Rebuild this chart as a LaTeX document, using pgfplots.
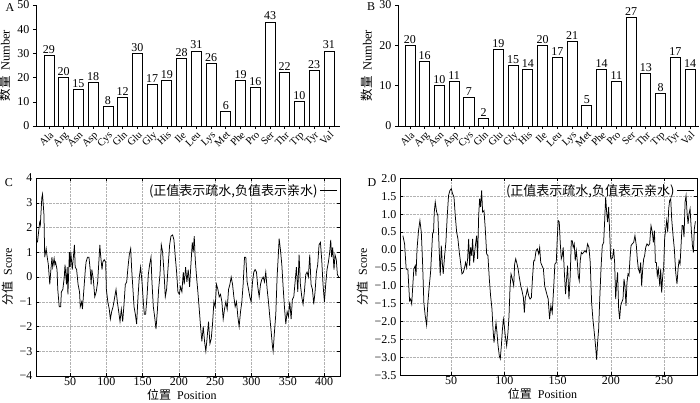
\documentclass[border=0pt]{standalone}
\usepackage{pgfplots}
\pgfplotsset{compat=1.18}
\usepackage{fontspec}
\setmainfont{Liberation Serif}
\newfontfamily\cjk{Noto Sans CJK SC}
\newcommand{\numfont}{\fontsize{12}{12}\selectfont}
\pgfplotsset{
  barax/.style={anchor=south west,scale only axis,height=121pt,
    ybar, bar width=0.68, ymin=0,
    xtick={0,...,19},
    xticklabels={Ala,Arg,Asn,Asp,Cys,Gln,Glu,Gly,His,Ile,Leu,Lys,Met,Phe,Pro,Ser,Thr,Trp,Tyr,Val},
    x tick label style={rotate=45,anchor=north east,inner sep=1pt,font=\fontsize{10.5}{10.5}\selectfont},
    y tick label style={font=\numfont},
    axis lines*=left, tick align=outside, major tick length=3pt,
    axis line style={line width=0.8pt}, tick style={line width=0.6pt,black},
    /pgf/number format/assume math mode=true,
    nodes near coords,
    every node near coord/.append style={font=\numfont,inner sep=1.5pt},
    ylabel={{\cjk 数量}\ \,Number}, ylabel style={font=\fontsize{12.5}{12.5}\selectfont},
    enlarge y limits=false,
  },
  lineax/.style={anchor=south west,scale only axis,
    grid=major, grid style={densely dotted,gray!60,line width=0.5pt},
    tick style={black,line width=0.5pt}, major tick length=3pt,
    tick label style={font=\numfont},
    x tick label style={inner sep=1.5pt},
    /pgf/number format/assume math mode=true,
    xlabel={{\cjk 位置}\ \ Position}, ylabel={{\cjk 分值}\ \ Score},
    label style={font=\fontsize{12}{12}\selectfont},
    xlabel style={at={(axis description cs:0.48,0)},anchor=north,yshift=-13pt,inner sep=0pt},
    legend style={at={(0.995,0.985)},anchor=north east,draw=none,fill=none,
      font=\fontsize{13}{13}\selectfont,inner sep=1pt},
    legend plot pos=right,
    axis line style={line width=0.7pt},
  }
}
\begin{document}
\begin{tikzpicture}
\useasboundingbox (0,0) rectangle (700pt,402pt);
% ---------- A ----------
\begin{axis}[barax, at={(36pt,276pt)}, width=304pt, ymax=50, ytick={0,10,...,50},
  xmin=-0.88, xmax=19.75]
\addplot[fill=white,draw=black,line width=0.8pt] coordinates {
(0,29) (1,20) (2,15) (3,18) (4,8) (5,12) (6,30) (7,17) (8,19) (9,28)
(10,31) (11,26) (12,6) (13,19) (14,16) (15,43) (16,22) (17,10) (18,23) (19,31)};
\end{axis}
% ---------- B ----------
\begin{axis}[barax, at={(398pt,276pt)}, width=301pt, ymax=30, ytick={0,10,20,30},
  xmin=-0.81, xmax=19.61]
\addplot[fill=white,draw=black,line width=0.8pt] coordinates {
(0,20) (1,16) (2,10) (3,11) (4,7) (5,2) (6,19) (7,15) (8,14) (9,20)
(10,17) (11,21) (12,5) (13,14) (14,11) (15,27) (16,13) (17,8) (18,17) (19,14)};
\end{axis}
% ---------- C ----------
\begin{axis}[lineax, at={(36pt,26pt)}, width=304pt, height=198pt,
  xmin=3, xmax=422, ymin=-4, ymax=4,
  xtick={50,100,...,400}, ytick={-4,-3,...,4},
  yticklabels={−4,−3,−2,−1,0,1,2,3,4}]
\addplot[black,line width=0.75pt] coordinates {
(5,1.4) (8,2.2) (9,2.1) (11,3.2) (12,3.35) (14,2.5) (15,0.8) (17,1.15) (18,0.9) (20,0.5)
(22,-0.3) (23,0.1) (25,0.8) (26,0.4) (28,0.75) (29,0.5) (30,0.6) (32,0.3) (33,-0.5) (35,-1.2)
(37,-1.2) (38,-0.6) (40,-0.5) (42,0.0) (43,0.5) (45,-0.3) (46,0.4) (47,-0.7) (49,1.0) (50,0.4)
(51,1.0) (53,0.3) (56,1.3) (57,0.4) (59,0.3) (61,-0.3) (63,-0.6) (64,-1.2) (66,-1.0) (67,-1.3)
(69,-0.5) (71,0.3) (72,0.6) (74,0.8) (76,0.8) (78,0.2) (79,-0.3) (80,0.3) (82,-0.1) (84,-0.8)
(86,-0.6) (88,-0.2) (89,0.3) (91,1.3) (92,0.9) (94,0.3) (95,0.6) (97,0.7) (99,0.6) (100,-0.5)
(102,-1.0) (104,-1.3) (105.5,-1.7) (107.3,-1.4) (109.2,-1.2) (111,-0.9) (113.3,-0.5) (115.1,-1.0)
(117,-1.4) (118.8,-1.8) (120.6,-1.3) (122.5,-1.8) (124.3,-1.1) (126.1,-0.3) (128,-0.2) (129.8,0.4)
(131.6,0.9) (133.5,1.15) (134.9,0.3) (136.2,-0.3) (138.1,-1.2) (139.9,-1.5) (141.7,-1.9) (143.6,-0.8)
(145.4,0.0) (147.2,0.4) (149.1,-0.2) (150.9,-1.0) (152.3,-1.5) (154.1,-1.5) (156,-0.8) (157.8,0.1)
(159.6,0.5) (161.5,0.8) (162.8,-0.2) (164.7,-1.2) (166.5,-1.6) (168.4,-2.1) (170.2,-1.4) (172,-0.5)
(173.9,0.1) (175.7,1.3) (177.5,1.0) (179.4,0.2) (181.2,-0.8) (183,-0.5) (185.3,0.5) (187.2,1.3)
(189,1.65) (191.3,1.7) (193.1,1.5) (195,0.8) (196.8,0.2) (198.6,-0.6) (200.5,-0.7) (202.3,-0.4)
(204.1,-0.6) (206,0.2) (207.3,-0.3) (209.2,0.4) (211,-0.2) (212.8,0.3) (214.7,-0.4) (216.5,0.5)
(218.4,1.4) (219.7,1.0) (221.1,1.65) (222.5,0.7) (224.3,0.0) (226.1,-0.6) (228,-1.3) (229.8,-2.0)
(231.6,-2.6) (233.5,-2.0) (235.3,-2.6) (237.1,-3.0) (239,-2.4) (240.8,-1.8) (242.7,-2.7) (244.5,-2.5)
(246.3,-1.9) (248.2,-1.0) (250,-1.2) (251.8,-0.3) (253.7,-0.5) (255.5,-0.8) (257.3,-0.7) (259.2,-1.0)
(261,-1.7) (262.8,-1.3) (264.7,-1.0) (266.5,-1.3) (268.4,-0.5) (270.2,-0.3) (272,0.0) (273.9,-0.3)
(275.7,-0.8) (277.5,-1.2) (279.4,-1.0) (281.2,-1.6) (283,-2.0) (284.9,-1.4) (286.7,-1.0) (288.5,-0.3)
(290.4,0.8) (292.2,0.8) (294,-0.2) (295.9,-0.5) (297.7,-0.8) (299.5,-1.0) (301.4,-0.2) (303.2,0.2)
(305,0.3) (306.9,0.2) (308.7,-0.4) (310.6,-0.8) (312.4,-0.3) (314.2,-0.1) (316.1,0.0) (317.9,-0.2)
(319.7,0.2) (321.6,-0.5) (323.4,-1.0) (325.2,-1.6) (327.1,-2.2) (328.9,-2.8) (329.8,-3.0) (331.7,-2.2)
(333.5,-1.5) (335.3,0.0) (337.2,1.0) (338.1,1.55) (339.9,1.1) (341.8,0.5) (343.6,-0.4) (345.4,-1.2)
(347.3,-1.9) (349.1,-1.4) (350.9,-1.6) (352.8,-1.0) (354.6,-1.7) (356.4,-0.9) (358.3,-0.8) (360.1,-0.2)
(361.9,0.4) (363.8,-0.6) (365.6,0.9) (367.4,-0.3) (369.3,-0.8) (371.1,-1.1) (372.9,-0.6) (374.8,0.1)
(376.6,0.2) (378.4,0.0) (380.3,0.9) (382.1,-0.3) (384,-0.5) (385.8,-1.1) (387.6,-0.6) (389.5,0.2)
(391.3,0.5) (393.1,1.3) (395,1.4) (396.8,0.7) (398.6,-0.3) (400.5,-1.0) (402.3,-0.3) (404.1,0.3)
(406,0.6) (407.8,1.0) (409.2,1.5) (410.5,0.8) (411.9,1.2) (413.7,0.3) (415.1,0.9) (416.9,0.7)
(418.4,0.1) (420.2,0.0)};
\addlegendentry{{\cjk (正值表示疏水,负值表示亲水)}}
\end{axis}
% ---------- D ----------
\begin{axis}[lineax, at={(400pt,26.7pt)}, width=297pt, height=197pt,
  xmin=2, xmax=281, ymin=-3.5, ymax=2.0,
  xtick={50,100,...,250}, ytick={-3.5,-3,...,2},
  yticklabels={−3.5,−3.0,−2.5,−2.0,−1.5,−1.0,−0.5,0.0,0.5,1.0,1.5,2.0}]
\addplot[black,line width=0.75pt] coordinates {
(4.7,0.40) (6.3,0.17) (7.8,-0.53) (9.4,-0.56) (11,-1.42) (12,-1.37) (13,-1.51) (14,-1.00) (15,-0.53)
(16.3,-0.44) (17,-0.72) (18,0.03) (19.4,0.54) (20.7,0.82) (22,0.50) (23.2,-0.35) (24.4,-1.47) (25.7,-1.84)
(27,-2.10) (28.2,-1.47) (29.5,-1.00) (30.7,-0.63) (31.7,-0.07) (32.6,0.45) (33.5,0.50) (34.2,1.06)
(35.1,1.34) (36.4,1.06) (37.6,0.96) (38.9,-0.07) (39.8,-0.72) (40.8,0.12) (41.7,-0.35) (42.6,-0.67)
(43.9,-0.16) (45.1,0.21) (46.4,0.96) (47.6,1.52) (48.9,1.66) (50.2,1.71) (51.4,1.57) (52.7,1.48)
(53.9,0.96) (55.2,0.50) (56.4,0.31) (57.7,-0.07) (58.9,-0.35) (60.2,-0.67) (61.4,-0.63) (62.7,-0.49)
(63.6,-0.35) (64.6,-0.49) (65.5,-0.25) (66.5,0.31) (67.4,-0.44) (68.3,0.07) (69.3,-0.16) (70.2,0.31)
(71.2,-0.35) (72.1,-0.07) (73.0,0.17) (74.0,0.40) (74.9,-0.25) (75.9,0.96) (76.8,1.43) (77.7,1.20)
(78.7,1.66) (79.6,1.06) (80.9,1.10) (82.1,0.59) (83.4,-0.11) (84.6,-0.16) (85.9,-0.81) (87.1,-1.28)
(88.4,-1.65) (89.3,-2.17) (90.3,-2.59) (91.2,-2.31) (92.2,-2.03) (93.1,-2.31) (94.0,-2.64) (95.3,-2.96)
(96.2,-3.04) (97.2,-2.68) (98.1,-2.26) (99.1,-1.93) (100.0,-2.12) (100.9,-2.40) (102.2,-2.68) (103.4,-2.31)
(104.4,-1.84) (105.3,-1.09) (106.3,-0.67) (107.5,-0.81) (108.8,-1.00) (109.7,-0.39) (110.7,-0.25)
(111.9,-0.39) (112.9,-0.53) (114.1,-0.77) (115.4,-1.00) (116.6,-1.14) (117.9,-1.33) (118.8,-1.75)
(119.7,-1.33) (120.7,-1.23) (121.6,-1.09) (122.9,-1.28) (124.1,-1.37) (125.4,-1.33) (126.6,-0.72)
(127.6,-0.30) (128.5,-0.30) (129.8,-0.02) (131.0,0.03) (132.3,-0.11) (133.2,0.07) (134.2,-0.35)
(135.4,-0.44) (136.7,-0.53) (137.9,-1.00) (139.5,-1.19) (141.2,-1.37) (142.5,-1.93) (143.7,-1.56)
(145.0,-1.75) (146.3,-1.09) (147.5,-0.39) (148.8,-0.35) (149.7,0.31) (150.6,0.82) (151.6,0.78)
(152.5,0.21) (153.5,-0.25) (154.4,-0.16) (155.3,0.07) (156.3,-0.58) (157.5,-1.23) (158.5,-0.81)
(159.4,-0.44) (160.7,-1.37) (161.9,-0.72) (162.9,0.26) (163.8,0.26) (164.7,0.07) (165.7,0.17)
(166.6,-0.30) (167.6,-0.02) (168.5,-0.30) (169.4,-0.72) (170.4,-0.86) (171.3,-0.30) (172.3,-0.07)
(173.2,-0.11) (174.5,-0.07) (175.7,-0.02) (177.0,-0.07) (178.2,0.17) (179.5,0.07) (180.7,-0.35)
(182.0,-1.47) (183.2,-1.93) (184.5,-2.31) (185.7,-2.68) (186.7,-3.06) (187.6,-2.59) (188.6,-2.21)
(189.5,-1.47) (190.8,-0.53) (192.0,0.12) (193.3,0.21) (194.2,0.78) (195.2,1.48) (196.1,1.06)
(197.0,0.78) (198.0,1.20) (198.9,0.54) (199.9,-0.25) (200.8,-0.25) (201.7,-0.21) (202.7,0.03)
(203.6,-0.35) (204.6,-1.37) (205.5,-0.91) (206.4,-0.63) (207.4,-1.65) (208.3,-1.93) (209.3,-1.56)
(210.2,-1.47) (211.5,-1.37) (212.4,-0.81) (213.3,-1.00) (214.3,-1.56) (215.2,-0.91) (216.2,-0.67)
(217.1,-0.72) (218.1,-0.21) (219.0,0.12) (220.2,0.17) (221.5,0.21) (222.7,0.40) (224.0,0.12)
(224.9,-0.25) (225.9,-0.53) (227.1,-0.63) (228.1,-0.35) (229.0,-1.00) (230.0,-0.53) (230.9,-0.25)
(231.8,-0.16) (232.8,0.07) (234.0,0.17) (235.3,0.12) (236.5,0.17) (237.8,0.68) (239.0,0.50)
(240.0,0.21) (241.0,0.54) (241.9,-0.35) (242.8,-0.35) (243.7,-0.72) (244.7,-0.53) (246.0,-1.00)
(246.9,-0.53) (247.8,-1.19) (248.8,-0.72) (249.7,-0.49) (250.6,0.31) (251.6,0.59) (252.5,0.82)
(253.5,0.50) (254.4,1.15) (255.3,1.38) (256.3,1.43) (257.2,0.87) (258.5,0.40) (259.7,0.03)
(261.0,-0.63) (262.2,-0.95) (263.2,-0.53) (264.1,-0.30) (265.1,-0.39) (266.0,0.12) (267.0,0.68)
(267.9,0.68) (268.8,0.36) (269.8,1.34) (270.7,1.52) (271.6,1.06) (272.6,0.73) (273.5,1.01)
(274.5,1.15) (275.4,0.68) (276.7,0.12) (277.6,-0.07) (278.5,0.59) (279.5,0.80)};
\addlegendentry{{\cjk (正值表示疏水,负值表示亲水)}}
\end{axis}
% panel letters
\node[font=\fontsize{12}{12}\selectfont] at (10pt,394pt) {A};
\node[font=\fontsize{12}{12}\selectfont] at (371pt,395pt) {B};
\node[font=\fontsize{12}{12}\selectfont] at (9pt,219pt) {C};
\node[font=\fontsize{12}{12}\selectfont] at (372pt,219pt) {D};
\end{tikzpicture}
\end{document}
